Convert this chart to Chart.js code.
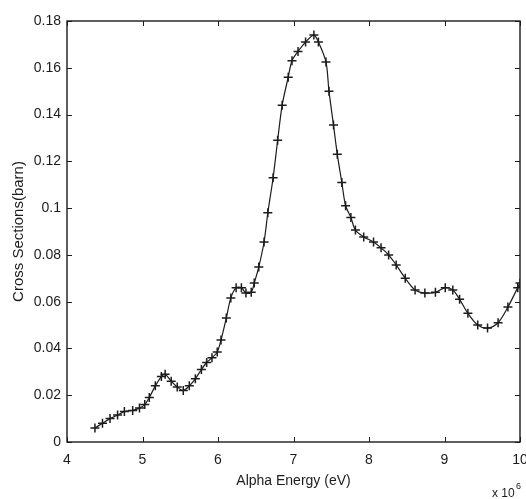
<!DOCTYPE html>
<html>
<head>
  <title>Cross Sections vs Alpha Energy</title>
  <script src="https://cdn.jsdelivr.net/npm/chart.js@4.4.1/dist/chart.umd.min.js"></script>
  <style>
    body { margin: 0; background: #fff; }
    canvas { display: block; }
  </style>
</head>
<body>
  <canvas id="chart" width="526" height="499"></canvas>

  <script>
    // energies in units of 1e6 eV (shown as "x 10^6" on the axis)
    const energies = [
      4.37, 4.47, 4.57, 4.67, 4.76, 4.87, 4.96, 5.03, 5.09, 5.17,
      5.25, 5.30, 5.38, 5.46, 5.54, 5.62, 5.70, 5.78, 5.85, 5.92,
      5.99, 6.04, 6.11, 6.17, 6.24, 6.31, 6.37, 6.44, 6.48, 6.54,
      6.61, 6.66, 6.73, 6.79, 6.85, 6.93, 6.98, 7.06, 7.16, 7.27,
      7.33, 7.43, 7.47, 7.53, 7.58, 7.64, 7.69, 7.76, 7.82, 7.93,
      8.06, 8.16, 8.26, 8.36, 8.48, 8.61, 8.74, 8.88, 9.01, 9.11,
      9.20, 9.31, 9.44, 9.57, 9.71, 9.84, 9.97, 10.0
    ];
    const crossSections = [
      0.0060, 0.0080, 0.0100, 0.0115, 0.0130, 0.0135, 0.0145, 0.0160, 0.0190, 0.0240,
      0.0280, 0.0290, 0.0260, 0.0235, 0.0220, 0.0240, 0.0270, 0.0310, 0.0340, 0.0360,
      0.0385, 0.0436, 0.0530, 0.0616, 0.0660, 0.0660, 0.0637, 0.0640, 0.0680, 0.0748,
      0.0855, 0.0980, 0.1130, 0.1290, 0.1440, 0.1560, 0.1630, 0.1670, 0.1710, 0.1740,
      0.1710, 0.1625, 0.1500, 0.1355, 0.1230, 0.1110, 0.1010, 0.0960, 0.0906, 0.0877,
      0.0855, 0.0830, 0.0800, 0.0757, 0.0700, 0.0650, 0.0637, 0.0640, 0.0660, 0.0650,
      0.0610, 0.0550, 0.0500, 0.0487, 0.0510, 0.0577, 0.0660, 0.0680
    ];
    const xTickLabels = ['4', '5', '6', '7', '8', '9', '10'];
    const yTickLabels = ['0', '0.02', '0.04', '0.06', '0.08', '0.1', '0.12', '0.14', '0.16', '0.18'];

    const ink = '#1c1c1c';
    const fontFamily = '"Liberation Sans", Arial, sans-serif';

    // MATLAB style box with inward ticks on all four sides, plus the exponent label
    const matlabBox = {
      id: 'matlabBox',
      afterDraw(chart) {
        const { ctx, chartArea: a, scales } = chart;
        ctx.save();
        ctx.strokeStyle = ink;
        ctx.lineWidth = 1.4;
        ctx.strokeRect(a.left, a.top, a.right - a.left, a.bottom - a.top);
        ctx.lineWidth = 1;
        ctx.beginPath();
        scales.x.ticks.forEach(t => {
          const px = Math.round(scales.x.getPixelForValue(t.value)) + 0.5;
          ctx.moveTo(px, a.bottom); ctx.lineTo(px, a.bottom - 5);
          ctx.moveTo(px, a.top); ctx.lineTo(px, a.top + 5);
        });
        scales.y.ticks.forEach(t => {
          const py = Math.round(scales.y.getPixelForValue(t.value)) + 0.5;
          ctx.moveTo(a.left, py); ctx.lineTo(a.left + 5, py);
          ctx.moveTo(a.right, py); ctx.lineTo(a.right - 5, py);
        });
        ctx.stroke();

        ctx.fillStyle = ink;
        ctx.textBaseline = 'alphabetic';
        ctx.font = '12px ' + fontFamily;
        ctx.fillText('x 10', 492, 497);
        ctx.font = '9px ' + fontFamily;
        ctx.fillText('6', 516, 489);
        ctx.restore();
      }
    };

    new Chart(document.getElementById('chart'), {
      type: 'line',
      data: {
        datasets: [{
          data: energies.map((e, i) => ({ x: e, y: crossSections[i] })),
          borderColor: ink,
          borderWidth: 1.2,
          pointStyle: 'cross',
          pointRadius: 4.5,
          pointBorderWidth: 1.5,
          pointBorderColor: ink,
          tension: 0.3,
          fill: false
        }]
      },
      options: {
        responsive: false,
        animation: false,
        layout: { padding: { top: 21, right: 3, left: 0, bottom: 0 } },
        plugins: { legend: { display: false }, tooltip: { enabled: false } },
        scales: {
          x: {
            type: 'linear',
            min: 4, max: 10,
            grid: { display: false, drawTicks: false },
            border: { display: false },
            ticks: {
              stepSize: 1,
              padding: 10,
              color: ink,
              font: { family: fontFamily, size: 14 },
              maxRotation: 0,
              callback: (v, i) => xTickLabels[i]
            },
            title: {
              display: true,
              text: 'Alpha Energy (eV)',
              color: ink,
              font: { family: fontFamily, size: 14 },
              padding: { top: 0, bottom: 9 }
            },
            afterFit(s) { s.height = 57; s.paddingLeft = 0; s.paddingRight = 0; }
          },
          y: {
            min: 0, max: 0.18,
            grid: { display: false, drawTicks: false },
            border: { display: false },
            ticks: {
              stepSize: 0.02,
              padding: 6,
              color: ink,
              font: { family: fontFamily, size: 14 },
              callback: (v, i) => yTickLabels[i]
            },
            title: {
              display: true,
              text: 'Cross Sections(barn)',
              color: ink,
              font: { family: fontFamily, size: 15 },
              padding: { top: 10, bottom: 0 }
            },
            afterFit(s) { s.width = 67; s.paddingTop = 0; s.paddingBottom = 0; }
          }
        }
      },
      plugins: [matlabBox]
    });
  </script>
</body>
</html>
